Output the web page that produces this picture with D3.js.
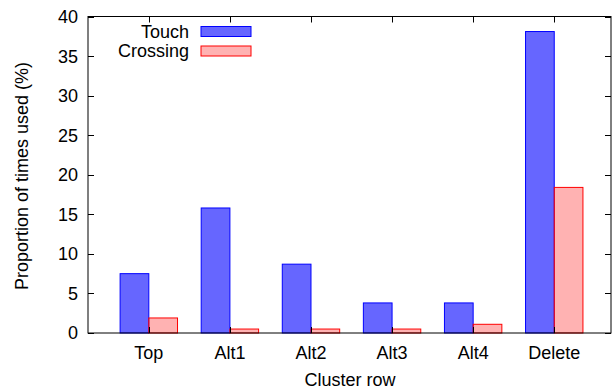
<!DOCTYPE html>
<html>
<head>
<meta charset="utf-8">
<script src="https://cdnjs.cloudflare.com/ajax/libs/d3/7.8.5/d3.min.js"></script>
<style>
  html, body { margin: 0; padding: 0; background: #fff; }
  svg { display: block; font-family: "Liberation Sans", Arial, Helvetica, sans-serif; }
</style>
</head>
<body>
<svg id="chart" width="615" height="389"></svg>
<script>
// Cluster rows and usage proportions (%) per selection technique
const categories = ["Top", "Alt1", "Alt2", "Alt3", "Alt4", "Delete"];
const touchValues = [7.5, 15.8, 8.7, 3.8, 3.8, 38.1];
const crossingValues = [1.9, 0.5, 0.5, 0.5, 1.1, 18.4];
const seriesNames = ["Touch", "Crossing"];
const yTicks = [0, 5, 10, 15, 20, 25, 30, 35, 40];

const series = [
  { name: seriesNames[0], values: touchValues, fill: "rgba(0,0,255,0.6)", stroke: "#0000ff", offset: -1 },
  { name: seriesNames[1], values: crossingValues, fill: "rgba(255,0,0,0.3)", stroke: "#ff0000", offset: 0 }
];

const fontSize = 18;
const svg = d3.select("#chart");
const plot = { left: 88, right: 611, top: 16.5, bottom: 333 };

// Category positions on a linear scale (index units)
const x = d3.scaleLinear().domain([-0.75, 5.7]).range([plot.left, plot.right]);
const y = d3.scaleLinear().domain([0, 40]).range([plot.bottom, plot.top]);
const boxW = 0.354;

// Bars: Touch sits left of the category tick, Crossing to the right
series.forEach(s => {
  svg.append("g").selectAll("rect")
    .data(s.values)
    .join("rect")
    .attr("x", (d, i) => x(i + s.offset * boxW))
    .attr("y", d => y(d))
    .attr("width", x(boxW) - x(0))
    .attr("height", d => y(0) - y(d))
    .attr("fill", s.fill)
    .attr("stroke", s.stroke)
    .attr("stroke-width", 1);
});

const tickLen = 6;
const axes = svg.append("g").attr("stroke", "#000").attr("stroke-width", 1);

// Y ticks, mirrored on the right
yTicks.forEach(t => {
  const yy = Math.round(y(t)) + 0.5;
  axes.append("line").attr("x1", plot.left).attr("x2", plot.left + tickLen).attr("y1", yy).attr("y2", yy);
  axes.append("line").attr("x1", plot.right - tickLen).attr("x2", plot.right).attr("y1", yy).attr("y2", yy);
});
// X ticks, mirrored on top
categories.forEach((c, i) => {
  const xx = Math.round(x(i)) + 0.5;
  axes.append("line").attr("x1", xx).attr("x2", xx).attr("y1", plot.top).attr("y2", plot.top + tickLen);
  axes.append("line").attr("x1", xx).attr("x2", xx).attr("y1", plot.bottom - tickLen).attr("y2", plot.bottom);
});

// Frame
axes.append("rect")
  .attr("x", plot.left).attr("y", plot.top)
  .attr("width", plot.right - plot.left).attr("height", plot.bottom - plot.top)
  .attr("fill", "none");

// Tick labels
svg.append("g").selectAll("text")
  .data(yTicks)
  .join("text")
  .attr("x", 78)
  .attr("y", d => y(d))
  .attr("dy", "0.36em")
  .attr("text-anchor", "end")
  .attr("font-size", fontSize)
  .text(d => d);

svg.append("g").selectAll("text")
  .data(categories)
  .join("text")
  .attr("x", (d, i) => x(i))
  .attr("y", 359)
  .attr("text-anchor", "middle")
  .attr("font-size", fontSize)
  .text(d => d);

// Axis titles
svg.append("text")
  .attr("x", 350).attr("y", 386)
  .attr("text-anchor", "middle")
  .attr("font-size", fontSize)
  .text("Cluster row");

svg.append("text")
  .attr("transform", "translate(28,176) rotate(-90)")
  .attr("text-anchor", "middle")
  .attr("font-size", fontSize)
  .text("Proportion of times used (%)");

// Legend
const legend = svg.append("g");
series.forEach((s, i) => {
  const cy = 31.5 + i * 19.5;
  legend.append("text")
    .attr("x", 189).attr("y", cy)
    .attr("dy", "0.36em")
    .attr("text-anchor", "end")
    .attr("font-size", fontSize)
    .text(s.name);
  legend.append("rect")
    .attr("x", 201).attr("y", cy - 5)
    .attr("width", 50).attr("height", 10)
    .attr("fill", s.fill)
    .attr("stroke", s.stroke);
});
</script>
</body>
</html>
